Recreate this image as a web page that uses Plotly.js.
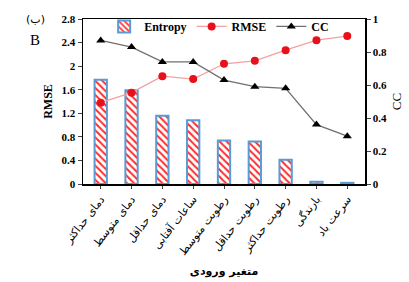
<!DOCTYPE html>
<html><head><meta charset="utf-8">
<script src="https://cdn.plot.ly/plotly-3.0.1.min.js"></script>
<style>body{margin:0;background:#fff}#c{width:409px;height:282px}</style>
</head><body><div id="c"></div>
<script>
const categories = ["دمای حداکثر","دمای متوسط","دمای حداقل","ساعات آفتابی","رطوبت متوسط","رطوبت حداقل","رطوبت حداکثر","بارندگی","سرعت باد"];
const entropy = [1.77, 1.59, 1.16, 1.08, 0.74, 0.72, 0.41, 0.04, 0.02];
const rmse = [1.38, 1.55, 1.83, 1.78, 2.04, 2.09, 2.27, 2.44, 2.51];
const cc = [0.87, 0.83, 0.74, 0.74, 0.63, 0.59, 0.58, 0.36, 0.29];
const leftTicks = [0, 0.4, 0.8, 1.2, 1.6, 2, 2.4, 2.8];
const rightTicks = [0, 0.2, 0.4, 0.6, 0.8, 1];

const F = "Liberation Serif, DejaVu Serif, DejaVu Sans";
const idx = categories.map((_, i) => i);
const traces = [
  {type:"bar", name:"Entropy", x: idx, y: entropy, width:0.4,
   marker:{color:"#fff", line:{color:"#5b9bd5", width:2},
           pattern:{shape:"\\", fgcolor:"#ff2a2a", bgcolor:"#fff", size:5, solidity:0.4}}},
  {type:"scatter", mode:"lines+markers", name:"RMSE", x: idx, y: rmse,
   line:{color:"#f4a0a0", width:1.3}, marker:{color:"#e8101a", size:8, symbol:"circle"}},
  {type:"scatter", mode:"lines+markers", name:"CC", x: idx, y: cc, yaxis:"y2",
   line:{color:"#707070", width:1.3}, marker:{color:"#000", size:8, symbol:"triangle-up"}}
];
const layout = {
  width:409, height:282, margin:{l:83, r:44, t:12, b:98},
  paper_bgcolor:"#fff", plot_bgcolor:"#fff",
  font:{family:F, size:11, color:"#000"},
  showlegend:true,
  legend:{orientation:"h", x:0.075, y:0.955, xanchor:"left", yanchor:"middle",
          bgcolor:"rgba(255,255,255,0)", font:{family:F, size:12, weight:"bold"},
          itemwidth:30, tracegroupgap:0},
  xaxis:{range:[-0.575, 8.575], tickvals: idx, ticktext: categories, tickangle:-52,
         ticks:"outside", ticklen:3, showline:true, linecolor:"#000", linewidth:1.5,
         mirror:true, showgrid:false, zeroline:false,
         tickfont:{family:"DejaVu Sans", size:11},
         title:{text:"متغیر ورودی", font:{family:"DejaVu Sans", size:11, weight:"bold"}, standoff:10}},
  yaxis:{range:[0, 2.8], tickvals: leftTicks, ticktext: leftTicks.map(String),
         ticks:"outside", ticklen:4, showline:true, linecolor:"#000", linewidth:1.5,
         showgrid:false, zeroline:false, tickfont:{family:F, size:11, weight:"bold"},
         title:{text:"RMSE", font:{family:F, size:12, weight:"bold"}, standoff:6}},
  yaxis2:{range:[0, 1], overlaying:"y", side:"right", tickvals: rightTicks, ticktext: rightTicks.map(String),
          ticks:"outside", ticklen:4, showline:true, linecolor:"#000", linewidth:1.5,
          showgrid:false, zeroline:false, tickfont:{family:F, size:11, weight:"bold"},
          title:{text:"CC", font:{family:F, size:13}, standoff:6}},
  annotations:[
    {text:"(ب)", xref:"paper", yref:"paper", x:-0.17, y:1.0, xanchor:"center", yanchor:"middle",
     showarrow:false, font:{family:"DejaVu Sans", size:11}},
    {text:"B", xref:"paper", yref:"paper", x:-0.17, y:0.87, xanchor:"center", yanchor:"middle",
     showarrow:false, font:{family:F, size:15}}
  ]
};
Plotly.newPlot("c", traces, layout, {displayModeBar:false, staticPlot:true});
</script></body></html>
